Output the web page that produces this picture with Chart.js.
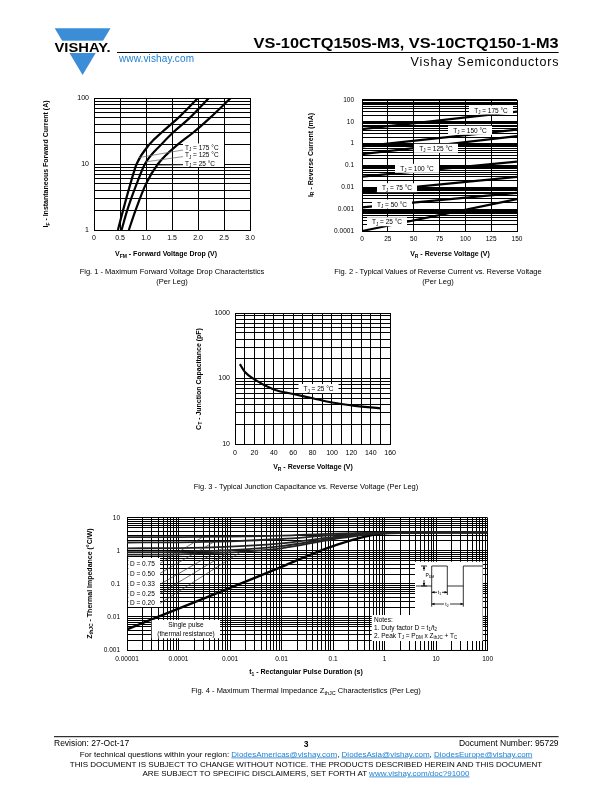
<!DOCTYPE html>
<html>
<head>
<meta charset="utf-8">
<script src="https://cdn.jsdelivr.net/npm/chart.js@4.4.1/dist/chart.umd.min.js"></script>
<style>
html,body{margin:0;padding:0;background:#fff;}
#page{position:relative;width:612px;height:792px;overflow:hidden;font-family:"Liberation Sans",Arial,sans-serif;}
canvas{position:absolute;}
#overlay{position:absolute;left:0;top:0;}
#overlay text{font-family:"Liberation Sans",Arial,sans-serif;fill:#000;}
.lnk{fill:#1f7fd0 !important;text-decoration:underline;}
</style>
</head>
<body>
<div id="page">
<canvas id="fig1"></canvas>
<canvas id="fig2"></canvas>
<canvas id="fig3"></canvas>
<canvas id="fig4"></canvas>

<svg id="overlay" width="612" height="792">
  <!-- header -->
  <polygon points="54.7,28.3 110.5,28.3 82.6,75" fill="#3c8dd7"/>
  <rect x="50" y="40.7" width="65" height="12.3" fill="#fff"/>
  <text x="54.5" y="52.3" font-size="13" font-weight="900" textLength="56" lengthAdjust="spacingAndGlyphs">VISHAY.</text>
  <text x="558.6" y="47.5" font-size="15.5" font-weight="bold" text-anchor="end" textLength="305" lengthAdjust="spacingAndGlyphs">VS-10CTQ150S-M3, VS-10CTQ150-1-M3</text>
  <line x1="117" y1="52.5" x2="558.6" y2="52.5" stroke="#000" stroke-width="1"/>
  <text x="119" y="62.3" font-size="10" class="lnk" style="text-decoration:none" textLength="75">www.vishay.com</text>
  <text x="558.6" y="65.5" font-size="12.5" text-anchor="end" textLength="148">Vishay Semiconductors</text>

  <!-- fig 1 labels -->
  <rect x="183" y="143.5" width="41" height="23.5" fill="#fff"/>
  <text x="185" y="149.6" font-size="6.5">T<tspan font-size="4.5" dy="1.5">J</tspan><tspan dy="-1.5"> = 175 °C</tspan></text>
  <text x="185" y="157.3" font-size="6.5">T<tspan font-size="4.5" dy="1.5">J</tspan><tspan dy="-1.5"> = 125 °C</tspan></text>
  <text x="185" y="165.6" font-size="6.5">T<tspan font-size="4.5" dy="1.5">J</tspan><tspan dy="-1.5"> = 25 °C</tspan></text>
  <text x="166" y="256" font-size="7" font-weight="bold" text-anchor="middle">V<tspan font-size="5" dy="1.5">FM</tspan><tspan dy="-1.5"> - Forward Voltage Drop (V)</tspan></text>
  <text transform="translate(48.2,164) rotate(-90)" font-size="7" font-weight="bold" text-anchor="middle">I<tspan font-size="5" dy="1.5">F</tspan><tspan dy="-1.5"> - Instantaneous Forward Current (A)</tspan></text>
  <text x="172" y="274" font-size="7.5" text-anchor="middle">Fig. 1 - Maximum Forward Voltage Drop Characteristics</text>
  <text x="172" y="284" font-size="7.5" text-anchor="middle">(Per Leg)</text>

  <!-- fig 2 labels -->
  <g font-size="6.5">
  <rect x="469" y="105.5" width="44" height="9" fill="#fff"/>
  <text x="491" y="112.5" text-anchor="middle">T<tspan font-size="4.5" dy="1.5">J</tspan><tspan dy="-1.5"> = 175 °C</tspan></text>
  <rect x="448" y="125.8" width="44" height="9" fill="#fff"/>
  <text x="470" y="132.8" text-anchor="middle">T<tspan font-size="4.5" dy="1.5">J</tspan><tspan dy="-1.5"> = 150 °C</tspan></text>
  <rect x="414" y="143.8" width="44" height="9" fill="#fff"/>
  <text x="436" y="150.8" text-anchor="middle">T<tspan font-size="4.5" dy="1.5">J</tspan><tspan dy="-1.5"> = 125 °C</tspan></text>
  <rect x="395" y="163.8" width="44" height="9" fill="#fff"/>
  <text x="417" y="170.8" text-anchor="middle">T<tspan font-size="4.5" dy="1.5">J</tspan><tspan dy="-1.5"> = 100 °C</tspan></text>
  <rect x="377" y="183.2" width="40" height="9" fill="#fff"/>
  <text x="397" y="190.2" text-anchor="middle">T<tspan font-size="4.5" dy="1.5">J</tspan><tspan dy="-1.5"> = 75 °C</tspan></text>
  <rect x="372" y="199.5" width="40" height="9" fill="#fff"/>
  <text x="392" y="206.5" text-anchor="middle">T<tspan font-size="4.5" dy="1.5">J</tspan><tspan dy="-1.5"> = 50 °C</tspan></text>
  <rect x="367" y="217.2" width="40" height="9" fill="#fff"/>
  <text x="387" y="224.2" text-anchor="middle">T<tspan font-size="4.5" dy="1.5">J</tspan><tspan dy="-1.5"> = 25 °C</tspan></text>
  </g>
  <text x="450" y="256" font-size="7" font-weight="bold" text-anchor="middle">V<tspan font-size="5" dy="1.5">R</tspan><tspan dy="-1.5"> - Reverse Voltage (V)</tspan></text>
  <text transform="translate(312.5,155) rotate(-90)" font-size="7" font-weight="bold" text-anchor="middle">I<tspan font-size="5" dy="1.5">R</tspan><tspan dy="-1.5"> - Reverse Current (mA)</tspan></text>
  <text x="438" y="274" font-size="7.5" text-anchor="middle">Fig. 2 - Typical Values of Reverse Current vs. Reverse Voltage</text>
  <text x="438" y="284" font-size="7.5" text-anchor="middle">(Per Leg)</text>

  <!-- fig 3 labels -->
  <rect x="298.5" y="384" width="40" height="9" fill="#fff"/>
  <text x="318.5" y="391" font-size="6.5" text-anchor="middle">T<tspan font-size="4.5" dy="1.5">J</tspan><tspan dy="-1.5"> = 25 °C</tspan></text>
  <text x="313" y="469" font-size="7" font-weight="bold" text-anchor="middle">V<tspan font-size="5" dy="1.5">R</tspan><tspan dy="-1.5"> - Reverse Voltage (V)</tspan></text>
  <text transform="translate(200.8,379) rotate(-90)" font-size="7" font-weight="bold" text-anchor="middle">C<tspan font-size="5" dy="1.5">T</tspan><tspan dy="-1.5"> - Junction Capacitance (pF)</tspan></text>
  <text x="306" y="488.5" font-size="7.5" text-anchor="middle">Fig. 3 - Typical Junction Capacitance vs. Reverse Voltage (Per Leg)</text>

  <!-- fig 4 labels -->
  <g font-size="6.5">
  <rect x="128.3" y="558" width="31.7" height="49" fill="#fff"/>
  <text x="130" y="565.5">D = 0.75</text>
  <text x="130" y="575.5">D = 0.50</text>
  <text x="130" y="586">D = 0.33</text>
  <text x="130" y="595.5">D = 0.25</text>
  <text x="130" y="605">D = 0.20</text>
  <rect x="151.7" y="620" width="68.3" height="18.3" fill="#fff"/>
  <text x="186" y="627.3" text-anchor="middle">Single pulse</text>
  <text x="186" y="636" text-anchor="middle">(thermal resistance)</text>
  <path d="M415,561.7 H482.7 V641 H371.7 V615 H415 Z" fill="#fff"/>
  <text x="374" y="621.5">Notes:</text>
  <text x="374" y="629.5">1. Duty factor D = t<tspan font-size="4.5" dy="1.5">1</tspan><tspan dy="-1.5">/t</tspan><tspan font-size="4.5" dy="1.5">2</tspan></text>
  <text x="374" y="637.5">2. Peak T<tspan font-size="4.5" dy="1.5">J</tspan><tspan dy="-1.5"> = P</tspan><tspan font-size="4.5" dy="1.5">DM</tspan><tspan dy="-1.5"> x Z</tspan><tspan font-size="4.5" dy="1.5">thJC</tspan><tspan dy="-1.5"> + T</tspan><tspan font-size="4.5" dy="1.5">C</tspan></text>
  </g>
  <!-- waveform inset -->
  <g stroke="#000" stroke-width="0.8" fill="none">
    <polyline points="416,586 431.7,586 431.7,566 447.3,566 447.3,586 463.3,586 463.3,566 482.7,566"/>
    <line x1="431.7" y1="586" x2="431.7" y2="606.7"/>
    <line x1="447.3" y1="586" x2="447.3" y2="595"/>
    <line x1="463.3" y1="586" x2="463.3" y2="606.7"/>
    <line x1="421" y1="566" x2="427" y2="566"/>
    <line x1="421" y1="586" x2="427" y2="586"/>
    <line x1="424" y1="566" x2="424" y2="571"/>
    <line x1="424" y1="580" x2="424" y2="586"/>
    <line x1="431.7" y1="592.3" x2="437" y2="592.3"/>
    <line x1="442" y1="592.3" x2="447.3" y2="592.3"/>
    <line x1="431.7" y1="604" x2="444" y2="604"/>
    <line x1="450" y1="604" x2="463.3" y2="604"/>
  </g>
  <g fill="#000">
    <polygon points="424,566 422.8,569 425.2,569"/>
    <polygon points="424,586 422.8,583 425.2,583"/>
    <polygon points="431.7,592.3 434.5,591.1 434.5,593.5"/>
    <polygon points="447.3,592.3 444.5,591.1 444.5,593.5"/>
    <polygon points="431.7,604 434.5,602.8 434.5,605.2"/>
    <polygon points="463.3,604 460.5,602.8 460.5,605.2"/>
  </g>
  <text x="425.5" y="577" font-size="5">P<tspan font-size="3.5" dy="1">DM</tspan></text>
  <text x="439.5" y="594" font-size="5" text-anchor="middle">t<tspan font-size="3.5" dy="1">1</tspan></text>
  <text x="447" y="606" font-size="5" text-anchor="middle">t<tspan font-size="3.5" dy="1">2</tspan></text>

  <text x="306" y="674" font-size="7" font-weight="bold" text-anchor="middle">t<tspan font-size="5" dy="1.5">1</tspan><tspan dy="-1.5"> - Rectangular Pulse Duration (s)</tspan></text>
  <text transform="translate(91.8,583.6) rotate(-90)" font-size="7" font-weight="bold" text-anchor="middle">Z<tspan font-size="5" dy="1.5">thJC</tspan><tspan dy="-1.5"> - Thermal Impedance (°C/W)</tspan></text>
  <text x="306" y="693" font-size="7.5" text-anchor="middle">Fig. 4 - Maximum Thermal Impedance Z<tspan font-size="5.5" dy="1.5">thJC</tspan><tspan dy="-1.5"> Characteristics (Per Leg)</tspan></text>

  <!-- footer -->
  <line x1="54" y1="736.7" x2="558.6" y2="736.7" stroke="#000" stroke-width="1"/>
  <text x="54" y="746" font-size="8.5">Revision: 27-Oct-17</text>
  <text x="306" y="746.5" font-size="8.5" font-weight="bold" text-anchor="middle">3</text>
  <text x="558.6" y="746" font-size="8.5" text-anchor="end">Document Number: 95729</text>
  <text x="306" y="756.5" font-size="8" text-anchor="middle">For technical questions within your region: <tspan class="lnk">DiodesAmericas@vishay.com</tspan>, <tspan class="lnk">DiodesAsia@vishay.com</tspan>, <tspan class="lnk">DiodesEurope@vishay.com</tspan></text>
  <text x="306" y="767" font-size="8" text-anchor="middle">THIS DOCUMENT IS SUBJECT TO CHANGE WITHOUT NOTICE. THE PRODUCTS DESCRIBED HEREIN AND THIS DOCUMENT</text>
  <text x="306" y="775.5" font-size="8" text-anchor="middle">ARE SUBJECT TO SPECIFIC DISCLAIMERS, SET FORTH AT <tspan class="lnk">www.vishay.com/doc?91000</tspan></text>
</svg>
</div>

<script>
// ---- Fig. 1: forward voltage drop (x = V, y = A) ----
const fig1Current = [1, 2, 5, 10, 20, 30, 50, 100];
const fig1V175 = [0.46, 0.56, 0.70, 0.82, 1.07, 1.30, 1.62, 2.00];
const fig1V125 = [0.53, 0.64, 0.82, 0.98, 1.30, 1.52, 1.84, 2.21];
const fig1V25  = [0.67, 0.80, 1.00, 1.23, 1.62, 1.91, 2.23, 2.63];
const fig1XTicks = [0, 0.5, 1, 1.5, 2, 2.5, 3];
const fig1XLabels = ['0', '0.5', '1.0', '1.5', '2.0', '2.5', '3.0'];
const fig1YDecades = [1, 10, 100];
// leader lines label -> curve
const fig1LeadX = [[1.73, 0.86], [1.73, 1.00], [1.73, 1.22]];
const fig1LeadY = [[16.4, 12.5], [13.0, 10.8], [9.7, 9.5]];

// ---- Fig. 2: reverse current (x = V, y = mA) ----
const fig2Voltage = [0, 150];
const fig2I175 = [4.6, 29];
const fig2I150 = [0.75, 4.4];
const fig2I125 = [0.33, 2.2];
const fig2I100 = [0.031, 0.15];
const fig2I75  = [0.006, 0.03];
const fig2I50  = [0.0012, 0.0056];
const fig2I25  = [0.0001, 0.0029];
const fig2XTicks = [0, 25, 50, 75, 100, 125, 150];
const fig2YDecades = [0.0001, 0.001, 0.01, 0.1, 1, 10, 100];

// ---- Fig. 3: junction capacitance (x = V, y = pF) ----
const fig3Voltage = [5, 10, 20, 40, 60, 80, 100, 120, 150];
const fig3Cap = [166, 127, 97, 68, 58, 50, 43, 39, 35];
const fig3XGrid = [0, 10, 20, 30, 40, 50, 60, 70, 80, 90, 100, 110, 120, 130, 140, 150, 160];
const fig3XTicks = [0, 20, 40, 60, 80, 100, 120, 140, 160];
const fig3YDecades = [10, 100, 1000];

// ---- Fig. 4: thermal impedance (x = s, y = degC/W) ----
const fig4Time = [1e-5, 1e-4, 1e-3, 1e-2, 1e-1, 1, 10, 100];
const fig4D75 = [2.6, 2.62, 2.7, 2.9, 3.35, 3.58, 3.65, 3.65];
const fig4D50 = [1.8, 1.82, 1.95, 2.3, 3.0, 3.55, 3.65, 3.65];
const fig4D33 = [1.2, 1.22, 1.35, 1.7, 2.6, 3.52, 3.65, 3.65];
const fig4D25 = [0.92, 0.94, 1.05, 1.4, 2.4, 3.5, 3.65, 3.65];
const fig4D20 = [0.77, 0.79, 0.9, 1.2, 2.25, 3.48, 3.65, 3.65];
const fig4Single = [0.0042, 0.018, 0.076, 0.33, 1.4, 3.4, 3.65, 3.65];
const fig4XDecades = [1e-5, 1e-4, 1e-3, 1e-2, 1e-1, 1, 10, 100];
const fig4XLabels = ['0.00001', '0.0001', '0.001', '0.01', '0.1', '1', '10', '100'];
const fig4YDecades = [0.001, 0.01, 0.1, 1, 10];
const fig4LeadX = [[4.4e-5, 3e-4], [4.4e-5, 5e-4], [4.4e-5, 8e-4], [4.4e-5, 1.1e-3], [4.4e-5, 1.6e-3]];
const fig4LeadY = [[0.42, 2.68], [0.21, 1.92], [0.098, 1.33], [0.052, 1.06], [0.026, 0.92]];

const PAD = 10;

function pts(xs, ys){ return xs.map((x, i) => ({x, y: ys[i]})); }

function logGrid(decades){
  const g = [];
  decades.forEach((d, i) => {
    if(i < decades.length - 1){ for(let k = 1; k < 10; k++) g.push(d * k); }
    else g.push(d);
  });
  return g;
}

function axis(cfg, dir, size){
  return {
    type: cfg.log ? 'logarithmic' : 'linear',
    position: dir === 'x' ? 'bottom' : 'left',
    min: cfg.grid[0],
    max: cfg.grid[cfg.grid.length - 1],
    grid: {color: '#000', lineWidth: 1, drawTicks: false},
    border: {color: '#000', width: 1},
    ticks: {
      autoSkip: false, maxRotation: 0, minRotation: 0,
      padding: cfg.pad, color: '#000',
      font: {family: 'Liberation Sans', size: cfg.font},
      callback: (v, i, t) => t[i].lbl
    },
    afterBuildTicks: s => {
      s.ticks = cfg.grid.map(v => {
        const k = cfg.labelAt.indexOf(v);
        return {value: v, lbl: k >= 0 ? cfg.labels[k] : ''};
      });
    },
    afterFit: s => { if(dir === 'x') s.height = size; else s.width = size; }
  };
}

function buildChart(id, rect, yw, xh, xCfg, yCfg, datasets){
  const c = document.getElementById(id);
  c.width = yw + rect.w + PAD;
  c.height = PAD + rect.h + xh;
  c.style.left = (rect.x - yw) + 'px';
  c.style.top = (rect.y - PAD) + 'px';
  return new Chart(c, {
    type: 'line',
    data: {datasets},
    options: {
      responsive: false, animation: false, events: [],
      layout: {padding: {top: PAD, right: PAD, left: 0, bottom: 0}},
      plugins: {legend: {display: false}, tooltip: {enabled: false}},
      elements: {point: {radius: 0}},
      scales: {x: axis(xCfg, 'x', xh), y: axis(yCfg, 'y', yw)}
    }
  });
}

function curve(data, w, color, smooth){
  return {data, borderColor: color || '#000', borderWidth: w, fill: false,
    cubicInterpolationMode: smooth ? 'monotone' : 'default', tension: 0};
}

// Fig. 1
buildChart('fig1', {x: 94, y: 98, w: 156, h: 132}, 30, 18,
  {grid: fig1XTicks, labelAt: fig1XTicks, labels: fig1XLabels, pad: 4, font: 7},
  {log: true, grid: logGrid(fig1YDecades), labelAt: fig1YDecades, labels: fig1YDecades.map(String), pad: 5, font: 7},
  [
    ...fig1LeadX.map((xs, i) => curve(pts(xs, fig1LeadY[i]), 0.7, '#666')),
    curve(pts(fig1V175, fig1Current), 2.2, '#000', true),
    curve(pts(fig1V125, fig1Current), 2.2, '#000', true),
    curve(pts(fig1V25, fig1Current), 2.2, '#000', true)
  ]);

// Fig. 2
buildChart('fig2', {x: 362, y: 98, w: 155, h: 133}, 40, 18,
  {grid: fig2XTicks, labelAt: fig2XTicks, labels: fig2XTicks.map(String), pad: 4, font: 6.5},
  {log: true, grid: logGrid(fig2YDecades), labelAt: fig2YDecades, labels: fig2YDecades.map(String), pad: 8, font: 6.5},
  [fig2I175, fig2I150, fig2I125, fig2I100, fig2I75, fig2I50, fig2I25].map(ys => curve(pts(fig2Voltage, ys), 2.2)));

// Fig. 3
buildChart('fig3', {x: 235, y: 313, w: 156, h: 131}, 30, 18,
  {grid: fig3XGrid, labelAt: fig3XTicks, labels: fig3XTicks.map(String), pad: 5, font: 7},
  {log: true, grid: logGrid(fig3YDecades), labelAt: fig3YDecades, labels: fig3YDecades.map(String), pad: 5, font: 7},
  [curve(pts(fig3Voltage, fig3Cap), 2.2, '#000', true)]);

// Fig. 4
buildChart('fig4', {x: 127, y: 517, w: 361, h: 133}, 34, 18,
  {log: true, grid: logGrid(fig4XDecades), labelAt: fig4XDecades, labels: fig4XLabels, pad: 5, font: 6.5},
  {log: true, grid: logGrid(fig4YDecades), labelAt: fig4YDecades, labels: fig4YDecades.map(String), pad: 7, font: 6.5},
  [
    ...fig4LeadX.map((xs, i) => curve(pts(xs, fig4LeadY[i]), 0.7, '#333')),
    ...[fig4D75, fig4D50, fig4D33, fig4D25, fig4D20].map(ys => curve(pts(fig4Time, ys), 1.8, '#222', true)),
    curve(pts(fig4Time, fig4Single), 2.4, '#000', true)
  ]);
</script>
</body>
</html>
